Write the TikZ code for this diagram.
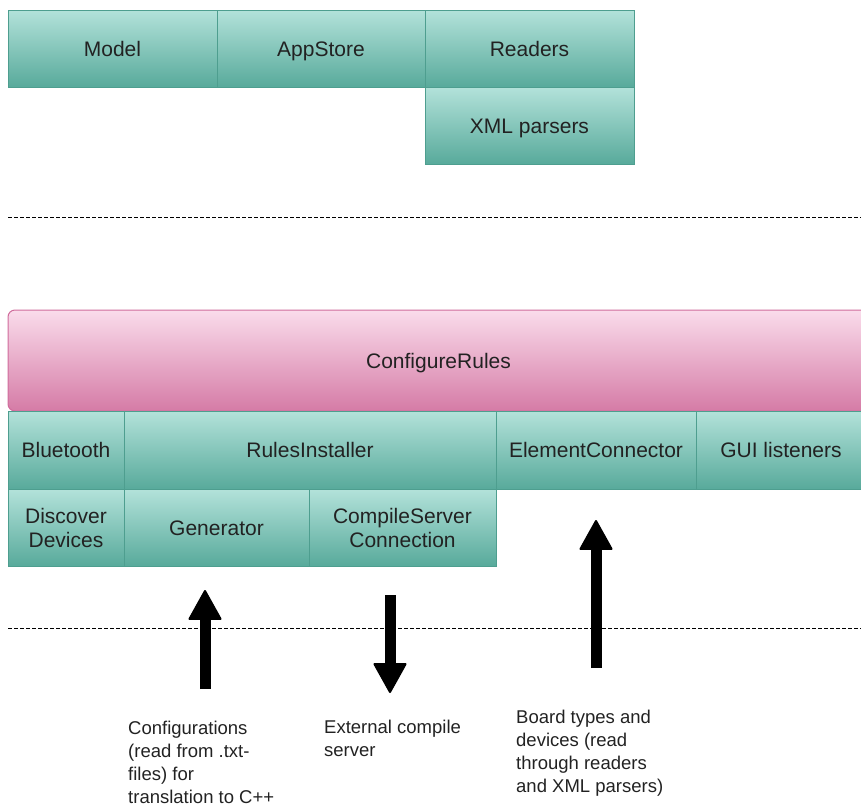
\documentclass[tikz,border=0pt]{standalone}
\usepackage{fontspec}
\setmainfont{Liberation Sans}
\usetikzlibrary{arrows.meta}
\definecolor{tealTop}{HTML}{B3E2DA}
\definecolor{tealBot}{HTML}{58AA9B}
\definecolor{tealLine}{HTML}{4E9E8F}
\definecolor{pinkTop}{HTML}{FADCEB}
\definecolor{pinkBot}{HTML}{D57BA6}
\definecolor{pinkLine}{HTML}{D06C9C}
\definecolor{txt}{HTML}{222222}
\begin{document}
\begin{tikzpicture}[x=1pt,y=-1pt,
  box/.style={draw=tealLine, line width=1pt, top color=tealTop, bottom color=tealBot,
    inner sep=0pt, outer sep=0pt, anchor=north west, align=center, text=txt,
    font=\fontsize{21}{24}\selectfont},
  bx/.style 2 args={box, minimum width=#1, minimum height=#2},
  one/.style={text height=19pt, text depth=4pt},
  pinkbox/.style={draw=pinkLine, line width=1pt, top color=pinkTop, bottom color=pinkBot,
    rounded corners=7pt, inner sep=0pt, outer sep=0pt, anchor=north west, text=txt,
    font=\fontsize{21}{24}\selectfont, text height=19pt, text depth=4pt},
  sep/.style={draw=black, line width=1pt, dash pattern=on 4pt off 2pt},
  bigarrow/.style={draw=black, line width=11pt,
    -{Triangle[width=34pt,length=31pt,line width=2pt,round]}},
  lbl/.style={anchor=north west, inner sep=0pt, align=left, text=txt,
    font=\fontsize{18.5}{23}\selectfont}
]
\useasboundingbox (0,0) rectangle (861,806);
\clip (0,0) rectangle (861,806);
% top layer
\node[bx={209pt}{77pt}, one] (model) at (8,10) {Model};
\node[bx={208pt}{77pt}, one] (appstore) at (217,10) {AppStore};
\node[bx={209pt}{77pt}, one] (readers) at (425,10) {Readers};
\node[bx={209pt}{77pt}, one] (xml) at (425,87) {XML parsers};
% separators
\coordinate (d1l) at (8,217);
\coordinate (d1r) at (861,217);
\draw[sep] (d1l) -- (d1r);
% configure rules
\node[pinkbox, minimum width=861pt, minimum height=101pt] (cfg) at (8,310) {ConfigureRules};
\node[bx={116pt}{78pt}, one] (bt) at (8,411) {Bluetooth};
\node[bx={372pt}{78pt}, one] (ri) at (124,411) {RulesInstaller};
\node[bx={200pt}{78pt}, one] (ec) at (496,411) {ElementConnector};
\node[bx={170pt}{78pt}, one] (gui) at (696,411) {GUI listeners};
\node[bx={116pt}{77pt}] (dd) at (8,489) {Discover\\Devices};
\node[bx={185pt}{77pt}, one] (gen) at (124,489) {Generator};
\node[bx={187pt}{77pt}] (csc) at (309,489) {CompileServer\\Connection};
\coordinate (d2l) at (8,628);
\coordinate (d2r) at (861,628);
\draw[sep] (d2l) -- (d2r);
% arrows
\coordinate (a1s) at (205,689);
\coordinate (a1e) at (205,590);
\coordinate (a2s) at (390,595);
\coordinate (a2e) at (390,693);
\coordinate (a3s) at (596,668);
\coordinate (a3e) at (596,520);
\draw[bigarrow] (a1s) -- (a1e);
\draw[bigarrow] (a2s) -- (a2e);
\draw[bigarrow] (a3s) -- (a3e);
% labels
\node[lbl] (l1) at (128,721) {Configurations\\(read from .txt-\\files) for\\translation to C++};
\node[lbl] (l2) at (324,720) {External compile\\server};
\node[lbl] (l3) at (516,710) {Board types and\\devices (read\\through readers\\and XML parsers)};
\end{tikzpicture}
\end{document}
